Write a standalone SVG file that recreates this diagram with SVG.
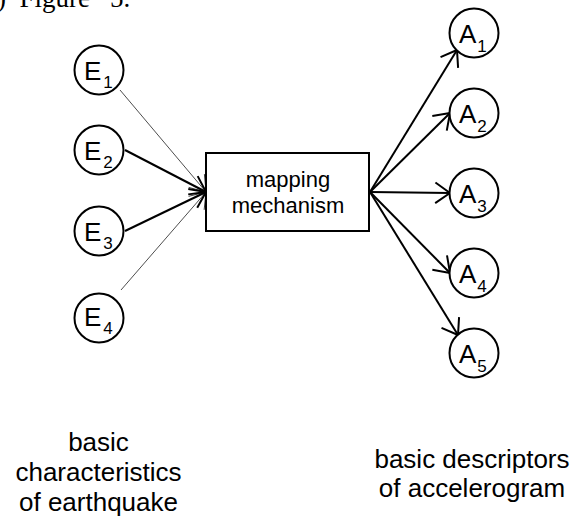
<svg xmlns="http://www.w3.org/2000/svg" width="573" height="521" viewBox="0 0 573 521">
<style>
.node circle{fill:#fff;stroke:#000;stroke-width:2}
.lbl{font-family:"Liberation Sans",Arial,sans-serif;font-size:26px;fill:#000}
.sub{font-size:17px}
.box{fill:#fff;stroke:#000;stroke-width:2}
.boxt{font-family:"Liberation Sans",Arial,sans-serif;font-size:22px;fill:#000;text-anchor:middle}
.cap{font-family:"Liberation Sans",Arial,sans-serif;font-size:26px;fill:#000;text-anchor:middle}
.thin{stroke:#000;stroke-width:0.7;fill:none;marker-end:url(#ahThin)}
.thick{stroke:#000;stroke-width:2;fill:none;marker-end:url(#ahThick)}
</style>
<defs>
<marker id="ahThick" viewBox="-20 -12 22 24" refX="0" refY="0" markerWidth="22" markerHeight="24" markerUnits="userSpaceOnUse" orient="auto" overflow="visible">
<path d="M-14.7,-10.3 L0,0 L-14.7,10.3" fill="none" stroke="#000" stroke-width="2" stroke-linejoin="round"/>
</marker>
<marker id="ahThin" viewBox="-20 -12 22 24" refX="0" refY="0" markerWidth="22" markerHeight="24" markerUnits="userSpaceOnUse" orient="auto" overflow="visible">
<path d="M-14.7,-10.3 L0,0 L-14.7,10.3" fill="none" stroke="#000" stroke-width="0.7" stroke-linejoin="round"/>
</marker>
</defs>
<text y="7" font-family="'Liberation Serif','Times New Roman',serif" font-size="27"><tspan x="-3">)</tspan><tspan x="19.5">Figure</tspan><tspan x="110">5.</tspan></text>
<g id="connectors">
<line class="thin" x1="120" y1="90" x2="206" y2="192"/>
<line class="thick" x1="125" y1="150" x2="206" y2="192"/>
<line class="thick" x1="125" y1="231" x2="206" y2="192"/>
<line class="thin" x1="121" y1="290" x2="206" y2="192"/>
<line class="thick" x1="370" y1="192" x2="457" y2="50"/>
<line class="thick" x1="370" y1="192" x2="450" y2="113"/>
<line class="thick" x1="370" y1="192" x2="450" y2="193"/>
<line class="thick" x1="370" y1="192" x2="450" y2="273"/>
<line class="thick" x1="370" y1="192" x2="458" y2="335"/>
</g>
<g id="E1" class="node"><circle cx="99" cy="70" r="24.5"/><text class="lbl" x="84" y="80">E<tspan class="sub" dx="2" dy="8">1</tspan></text></g>
<g id="E2" class="node"><circle cx="99" cy="150" r="24.5"/><text class="lbl" x="84" y="160">E<tspan class="sub" dx="2" dy="8">2</tspan></text></g>
<g id="E3" class="node"><circle cx="99" cy="231" r="24.5"/><text class="lbl" x="84" y="241">E<tspan class="sub" dx="2" dy="8">3</tspan></text></g>
<g id="E4" class="node"><circle cx="99" cy="318" r="24.5"/><text class="lbl" x="84" y="326">E<tspan class="sub" dx="2" dy="8">4</tspan></text></g>
<g id="mapping" class="node"><rect class="box" x="206" y="153" width="163" height="78"/><text class="boxt" x="288" y="187">mapping</text><text class="boxt" x="288" y="213">mechanism</text></g>
<g id="A1" class="node"><circle cx="474" cy="33" r="24.5"/><text class="lbl" x="459" y="43">A<tspan class="sub" dx="1" dy="8.5">1</tspan></text></g>
<g id="A2" class="node"><circle cx="474" cy="113" r="24.5"/><text class="lbl" x="459" y="123">A<tspan class="sub" dx="1" dy="8.5">2</tspan></text></g>
<g id="A3" class="node"><circle cx="474" cy="193" r="24.5"/><text class="lbl" x="459" y="203">A<tspan class="sub" dx="1" dy="8.5">3</tspan></text></g>
<g id="A4" class="node"><circle cx="474" cy="273" r="24.5"/><text class="lbl" x="459" y="283">A<tspan class="sub" dx="1" dy="8.5">4</tspan></text></g>
<g id="A5" class="node"><circle cx="474" cy="353" r="24.5"/><text class="lbl" x="459" y="363">A<tspan class="sub" dx="1" dy="8.5">5</tspan></text></g>
<g id="caption-left"><text class="cap" x="98.5" y="451">basic</text><text class="cap" x="98.5" y="481">characteristics</text><text class="cap" x="98.5" y="511">of earthquake</text></g>
<g id="caption-right"><text class="cap" x="472" y="468">basic descriptors</text><text class="cap" x="472" y="497">of accelerogram</text></g>
</svg>
